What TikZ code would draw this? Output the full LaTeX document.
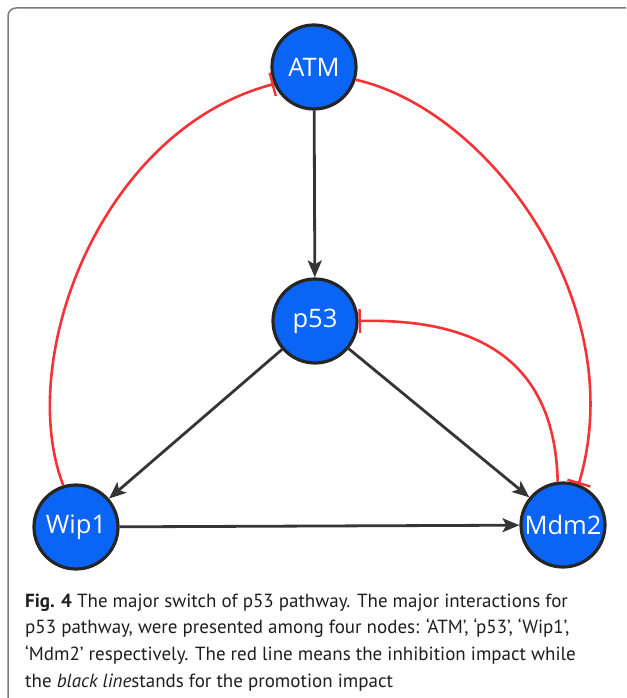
\documentclass[tikz,border=0pt]{standalone}
\usepackage{fontspec}
\setmainfont{PT Sans}
\newfontfamily\nodefont{Open Sans}
\usetikzlibrary{arrows.meta}
\definecolor{nodeblue}{HTML}{0A64F5}
\definecolor{inhred}{HTML}{F53236}
\definecolor{promo}{HTML}{353535}
\definecolor{framegray}{HTML}{7A7A7A}
\definecolor{captext}{HTML}{1E1E1E}
\tikzset{
  gene/.style={circle, draw=black!85, line width=3.2pt, fill=nodeblue, minimum size=84pt, inner sep=0pt, text=white, font=\nodefont\fontsize{25.5}{25.5}\selectfont},
  promote/.style={draw=promo, line width=2.8pt, -{Stealth[length=17pt,width=14pt,inset=4pt]}},
  inhibit/.style={draw=inhred, line width=2.6pt, -{Bar[width=24pt,line width=2.4pt]}},
  capline/.style={anchor=base west, inner sep=0pt, text=captext, font=\fontsize{19}{24}\selectfont}
}
\begin{document}
\begin{tikzpicture}[x=1pt,y=-1pt]
\useasboundingbox (0,0) rectangle (626,698);
\draw[framegray, line width=1.5pt, rounded corners=8pt] (8,698) -- (8,8) -- (626,8);
\node[gene] (atm) at (314,67) {ATM};
\node[gene] (p53) at (315,321) {p53};
\node[gene] (wip) at (76,527) {Wip1};
\node[gene] (mdm) at (563,525) {Mdm2};
\draw[promote] (atm) -- (p53);
\draw[promote] (p53) -- (wip);
\draw[promote] (p53) -- (mdm);
\draw[promote] (wip) -- (mdm);
\draw[inhibit] (wip.107) .. controls (15,360) and (100,130) .. (atm.203);
\draw[inhibit] (atm.-17) .. controls (490,110) and (632,305) .. (mdm.69);
\draw[inhibit] (mdm.97) .. controls (555,370) and (490,318) .. (p53.0);
\node[capline] (c1) at (25,607) {\textbf{Fig. 4} The major switch of p53 pathway. The major interactions for};
\node[capline] (c2) at (25,633.5) {p53 pathway, were presented among four nodes: ‘ATM’, ‘p53’, ‘Wip1’,};
\node[capline] (c3) at (25,660) {‘Mdm2’ respectively. The red line means the inhibition impact while};
\node[capline] (c4) at (25,687) {the \textit{black line}stands for the promotion impact};
\end{tikzpicture}
\end{document}
